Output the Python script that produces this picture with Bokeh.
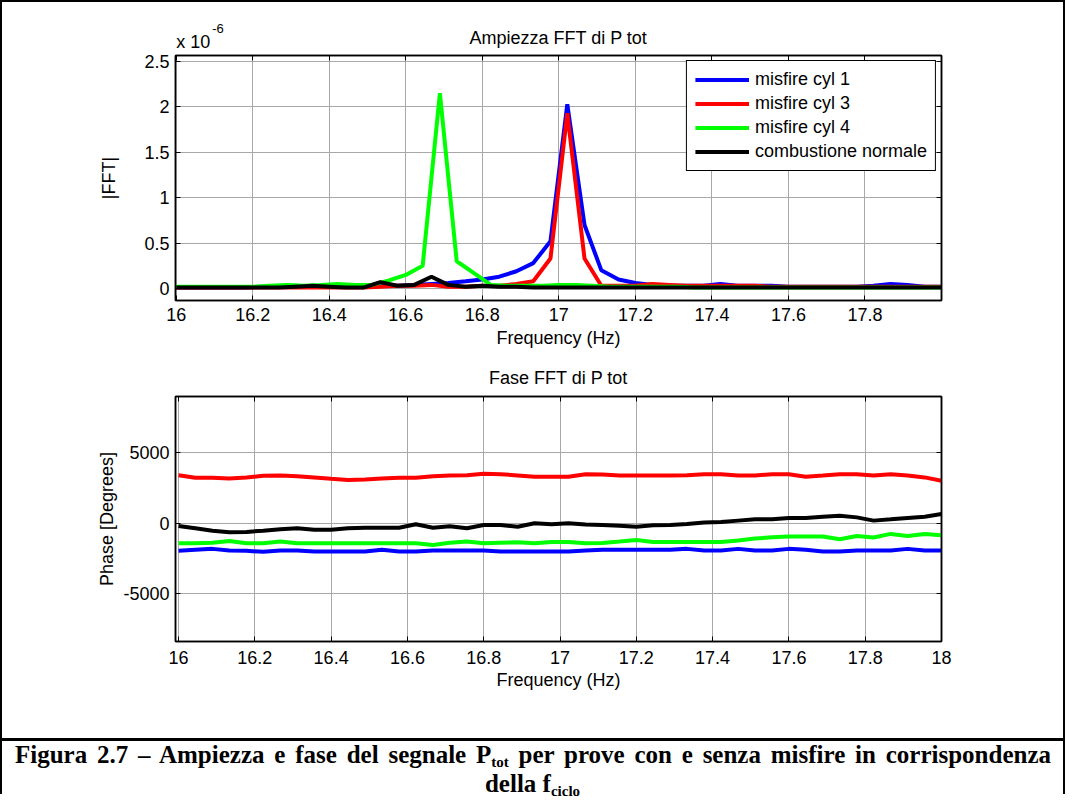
from bokeh.plotting import figure
from bokeh.models import (FixedTicker, LinearAxis, Div, Range1d, Label, CustomJSTickFormatter)
from bokeh.layouts import column
from bokeh.embed import file_html
from bokeh.resources import INLINE

# ---------------- data ----------------
# frequency bins (Hz)
freq = [16.000, 16.044, 16.089, 16.133, 16.178, 16.222, 16.267, 16.311, 16.356, 16.400,
        16.444, 16.489, 16.533, 16.578, 16.622, 16.667, 16.711, 16.756, 16.800, 16.844,
        16.889, 16.933, 16.978, 17.022, 17.067, 17.111, 17.156, 17.200, 17.244, 17.289,
        17.333, 17.378, 17.422, 17.467, 17.511, 17.556, 17.600, 17.644, 17.689, 17.733,
        17.778, 17.822, 17.867, 17.911, 17.956, 18.000]
# frequency bins of the cyl-4 test (half bin shifted)
freq_cyl4 = [15.978, 16.022, 16.067, 16.111, 16.156, 16.200, 16.244, 16.289, 16.333, 16.378,
             16.422, 16.467, 16.511, 16.556, 16.600, 16.644, 16.689, 16.733, 16.778, 16.822,
             16.867, 16.911, 16.956, 17.000, 17.044, 17.089, 17.133, 17.178, 17.222, 17.267,
             17.311, 17.356, 17.400, 17.444, 17.489, 17.533, 17.578, 17.622, 17.667, 17.711,
             17.756, 17.800, 17.844, 17.889, 17.933, 17.978, 18.022]

# |FFT| amplitudes, in units of 1e-6
amp_cyl1 = [0.01, 0.01, 0.01, 0.01, 0.01, 0.02, 0.02, 0.03, 0.02, 0.02,
            0.02, 0.02, 0.03, 0.03, 0.04, 0.05, 0.06, 0.08, 0.10, 0.13,
            0.19, 0.28, 0.52, 2.03, 0.70, 0.20, 0.10, 0.06, 0.04, 0.03,
            0.03, 0.03, 0.05, 0.03, 0.03, 0.03, 0.02, 0.02, 0.02, 0.02,
            0.02, 0.03, 0.05, 0.04, 0.02, 0.02]
amp_cyl3 = [0.01, 0.01, 0.01, 0.01, 0.01, 0.01, 0.01, 0.01, 0.01, 0.01,
            0.01, 0.01, 0.02, 0.03, 0.03, 0.04, 0.02, 0.02, 0.03, 0.03,
            0.05, 0.08, 0.33, 1.93, 0.33, 0.03, 0.03, 0.03, 0.05, 0.04,
            0.03, 0.03, 0.03, 0.03, 0.03, 0.02, 0.02, 0.02, 0.02, 0.02,
            0.02, 0.02, 0.02, 0.02, 0.02, 0.02]
amp_cyl4 = [0.02, 0.02, 0.02, 0.02, 0.02, 0.02, 0.03, 0.04, 0.03, 0.04,
            0.05, 0.04, 0.04, 0.09, 0.15, 0.25, 2.15, 0.30, 0.17, 0.04,
            0.03, 0.03, 0.03, 0.04, 0.04, 0.03, 0.02, 0.02, 0.02, 0.02,
            0.02, 0.01, 0.01, 0.01, 0.01, 0.01, 0.01, 0.01, 0.01, 0.01,
            0.01, 0.01, 0.01, 0.01, 0.01, 0.01, 0.01]
amp_norm = [0.01, 0.01, 0.01, 0.01, 0.01, 0.01, 0.01, 0.02, 0.03, 0.02,
            0.01, 0.01, 0.07, 0.03, 0.04, 0.13, 0.04, 0.02, 0.03, 0.02,
            0.02, 0.01, 0.01, 0.01, 0.01, 0.01, 0.01, 0.01, 0.01, 0.01,
            0.01, 0.01, 0.01, 0.01, 0.01, 0.01, 0.01, 0.01, 0.01, 0.01,
            0.01, 0.01, 0.01, 0.01, 0.01, 0.01]

# phase (degrees)
ph_cyl1 = [-1950, -1880, -1810, -1930, -1950, -2020, -1930, -1930, -2000, -2000,
           -2000, -2000, -1880, -2000, -2000, -1930, -1930, -1930, -1930, -2000,
           -2000, -2000, -2000, -2000, -1930, -1880, -1880, -1880, -1880, -1880,
           -1810, -1930, -1930, -1810, -1930, -1930, -1810, -1880, -2000, -2000,
           -1930, -1930, -1930, -1810, -1930, -1930]
ph_cyl3 = [3410, 3230, 3230, 3180, 3250, 3370, 3390, 3340, 3250, 3150,
           3060, 3110, 3180, 3230, 3230, 3340, 3390, 3410, 3510, 3480,
           3390, 3300, 3300, 3300, 3480, 3460, 3390, 3390, 3390, 3390,
           3410, 3480, 3480, 3390, 3390, 3480, 3480, 3300, 3390, 3480,
           3480, 3390, 3480, 3390, 3250, 3010]
ph_cyl4 = [-1410, -1410, -1370, -1250, -1410, -1410, -1290, -1410, -1410, -1410,
           -1410, -1410, -1410, -1410, -1410, -1530, -1370, -1290, -1410, -1370,
           -1340, -1410, -1320, -1320, -1410, -1390, -1290, -1180, -1320, -1320,
           -1320, -1320, -1320, -1220, -1080, -990, -940, -940, -940, -1130,
           -900, -1010, -750, -900, -750, -850]
ph_norm = [-190, -350, -520, -640, -610, -520, -420, -350, -450, -450,
           -350, -310, -310, -310, -70, -310, -210, -350, -120, -120,
           -240, 0, -70, 0, -90, -120, -170, -240, -140, -120,
           -50, 50, 90, 190, 280, 280, 380, 380, 470, 540,
           420, 190, 280, 380, 470, 660]

legend_labels = ["misfire cyl 1", "misfire cyl 3", "misfire cyl 4", "combustione normale"]
colors = ["#0000ff", "#ff0000", "#00ff00", "#000000"]

x_ticks_amp = [16.0, 16.2, 16.4, 16.6, 16.8, 17.0, 17.2, 17.4, 17.6, 17.8]
x_ticks_ph = [16.0, 16.2, 16.4, 16.6, 16.8, 17.0, 17.2, 17.4, 17.6, 17.8, 18.0]
y_ticks_amp = [0, 0.5, 1, 1.5, 2, 2.5]
y_ticks_ph = [-5000, 0, 5000]

FONT = "Liberation Sans"
FS = "18px"
GRID = "#a8a8a8"

fmt1 = CustomJSTickFormatter(code="return String(Number(tick.toFixed(1)));")


def style(p, xt, yt, title_standoff):
    p.outline_line_color = "black"
    p.outline_line_width = 1.5
    p.outline_line_alpha = 1
    p.border_fill_color = None
    p.background_fill_color = "white"
    p.title.align = "center"
    p.title.text_font = FONT
    p.title.text_font_size = FS
    p.title.text_font_style = "normal"
    p.title.text_color = "black"
    p.title.standoff = title_standoff
    xa, ya = p.below[0], p.left[0]
    for ax, t in ((xa, xt), (ya, yt)):
        ax.ticker = FixedTicker(ticks=t)
        ax.formatter = fmt1
        ax.major_tick_in = 5
        ax.major_tick_out = 0
        ax.minor_tick_line_color = None
        ax.axis_line_color = "black"
        ax.axis_line_width = 1.5
        ax.major_tick_line_color = "black"
        ax.major_label_text_font = FONT
        ax.major_label_text_font_size = FS
        ax.major_label_text_color = "black"
        ax.axis_label_text_font = FONT
        ax.axis_label_text_font_size = FS
        ax.axis_label_text_font_style = "normal"
        ax.axis_label_text_color = "black"
    p.xgrid.ticker = FixedTicker(ticks=xt)
    p.ygrid.ticker = FixedTicker(ticks=yt)
    for g in (p.xgrid[0], p.ygrid[0]):
        g.grid_line_color = GRID
        g.grid_line_width = 1
    # MATLAB-style box: inward ticks on top and right, no labels
    for place, t in (("above", xt), ("right", yt)):
        ax = LinearAxis(ticker=FixedTicker(ticks=t), major_label_text_font_size="1px",
                        major_label_text_color=None,
                        major_tick_in=5, major_tick_out=0, major_label_standoff=0,
                        minor_tick_line_color=None, axis_line_color="black",
                        axis_line_width=1.5, major_tick_line_color="black")
        p.add_layout(ax, place)
    return xa, ya


# ---------------- amplitude ----------------
p1 = figure(width=1065, height=357, x_range=Range1d(15.998, 18.0),
            y_range=Range1d(-0.132, 2.566), title="Ampiezza FFT di P tot",
            output_backend="svg", toolbar_location=None,
            min_border_left=175, min_border_right=123, min_border_top=55,
            min_border_bottom=57)
xa1, ya1 = style(p1, x_ticks_amp, y_ticks_amp, 15)
xa1.axis_label = "Frequency (Hz)"
ya1.axis_label = "|FFT|"
xa1.major_label_standoff = 7
xa1.axis_label_standoff = 4
ya1.major_label_standoff = 6
ya1.axis_label_standoff = 22

amp_x = [freq, freq, freq_cyl4, freq]
amp_y = [amp_cyl1, amp_cyl3, amp_cyl4, amp_norm]
for xs, ys, c, lab in zip(amp_x, amp_y, colors, legend_labels):
    p1.line(xs, ys, line_color=c, line_width=4, legend_label=lab)

lg = p1.legend[0]
lg.location = "top_right"
lg.margin = 5
lg.padding = 8
lg.spacing = 3
lg.glyph_width = 54
lg.glyph_height = 21
lg.label_height = 21
lg.label_standoff = 6
lg.label_text_font = FONT
lg.label_text_font_size = FS
lg.label_text_color = "black"
lg.border_line_color = "black"
lg.border_line_width = 1
lg.border_line_alpha = 1
lg.background_fill_alpha = 1

# axis multiplier "x 10^-6" (side panel, so it is not clipped to the frame)
p1.add_layout(Label(x=16.0, y=2.566, text="x 10", x_offset=0, y_offset=14,
                    text_baseline="alphabetic", text_font=FONT, text_font_size=FS,
                    text_color="black"), "left")
p1.add_layout(Label(x=16.0, y=2.566, text="-6", x_offset=36, y_offset=27,
                    text_baseline="alphabetic", text_font=FONT, text_font_size="13px",
                    text_color="black"), "left")

# ---------------- phase ----------------
p2 = figure(width=1065, height=345, x_range=Range1d(15.992, 18.0),
            y_range=Range1d(-8370, 8980), title="Fase FFT di P tot",
            output_backend="svg", toolbar_location=None,
            min_border_left=175, min_border_right=124, min_border_top=38,
            min_border_bottom=61)
xa2, ya2 = style(p2, x_ticks_ph, y_ticks_ph, 17)
ya2.formatter = CustomJSTickFormatter(code="return tick.toFixed(0);")
xa2.axis_label = "Frequency (Hz)"
ya2.axis_label = "Phase [Degrees]"
xa2.major_label_standoff = 9
xa2.axis_label_standoff = 3
ya2.major_label_standoff = 6
ya2.axis_label_standoff = 3

for ys, c in zip([ph_cyl1, ph_cyl3, ph_cyl4, ph_norm], colors):
    p2.line(freq, ys, line_color=c, line_width=4)

# ---------------- caption ----------------
sub = 'style="font-size:15px;line-height:0;vertical-align:-4px;"'
cap_html = (
    '<div style="width:1065px;height:92px;box-sizing:border-box;padding-top:36px;'
    'font-family:\'Liberation Serif\';font-weight:bold;color:black;">'
    '<div style="border-top:3px solid black;"></div>'
    '<div style="margin:0 14px 0 15px;font-size:25px;line-height:28px;'
    'text-align:justify;text-align-last:justify;white-space:nowrap;">'
    'Figura 2.7 – Ampiezza e fase del segnale P<span ' + sub + '>tot</span> '
    'per prove con e senza misfire in corrispondenza</div>'
    '<div style="margin-top:1px;font-size:25px;line-height:27px;text-align:center;">'
    'della f<span ' + sub + '>ciclo</span></div></div>'
)
cap = Div(text=cap_html, width=1065, height=92, margin=(0, 0, 0, 0))

layout = column(p1, p2, cap,
                styles={"box-shadow": "inset 2px 2px 0 0 black, inset -2px 0 0 0 black"})

open("out.html", "w").write(file_html(layout, INLINE))
